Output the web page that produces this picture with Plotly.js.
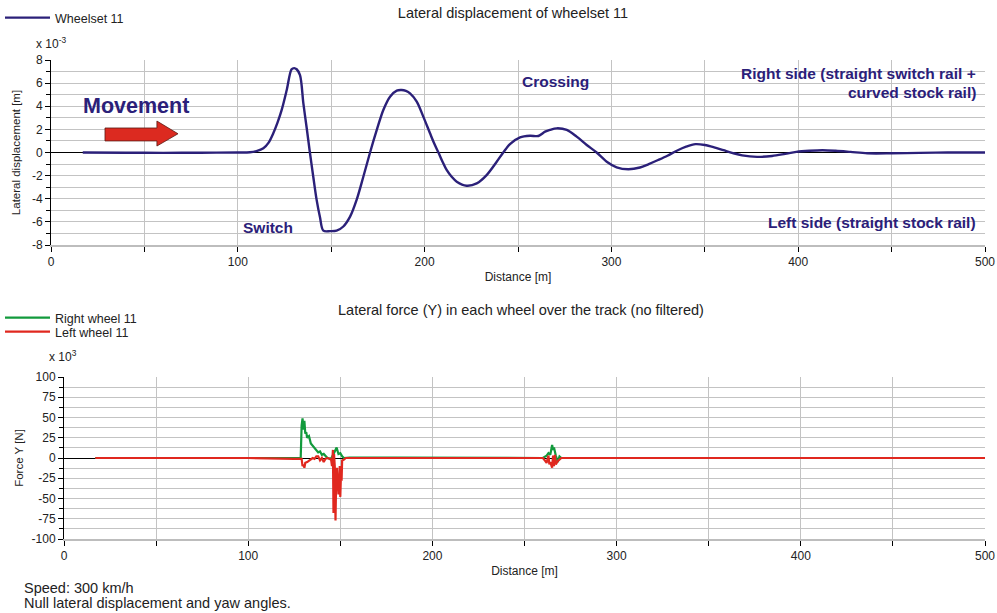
<!DOCTYPE html>
<html>
<head>
<meta charset="utf-8">
<script src="https://cdn.plot.ly/plotly-3.0.1.min.js"></script>
<style>html,body{margin:0;padding:0;background:#fff}#chart{width:997px;height:613px}</style>
</head>
<body>
<div id="chart"></div>
<script>
// ---- Data ----
// Lateral displacement of wheelset 11 [x 10^-3 m] vs distance [m]
const dispX = [17, 40, 60, 80, 100, 106.5, 110, 113.7, 116.5, 119, 121.3, 123.5, 126.2, 128.8, 130.2, 131.5, 133.3, 135.1, 136.9, 138.6, 140.4, 142.2, 144, 145.8, 149.4, 152.9, 156.5, 160.1, 163.6, 167.2, 170.8, 174.4, 177.9, 181.5, 185.1, 187.7, 190, 192.2, 195.8, 199.3, 202.9, 205.1, 207.4, 209.6, 211.8, 214.5, 217.2, 222.5, 227.9, 233.2, 238.6, 242.1, 245.7, 251.1, 256.4, 260.9, 264.5, 267.1, 270.7, 276.1, 281.4, 286.8, 292.1, 297.5, 302.8, 309, 315.3, 320, 325, 330, 335, 340, 345, 350, 355, 360, 365, 370, 378, 386, 393, 399, 406, 413, 420, 428, 437, 450, 465, 480, 500];
const dispY = [0, -0.02, -0.03, -0.02, 0, 0.02, 0.12, 0.36, 0.85, 1.66, 2.6, 3.68, 5.4, 7.2, 7.3, 7.2, 6.7, 4.25, 2.1, 0, -2.1, -4.1, -5.6, -6.76, -6.8, -6.76, -6.4, -5.55, -4.1, -2.1, 0, 1.95, 3.68, 4.83, 5.35, 5.4, 5.32, 5.12, 4.4, 3.1, 1.66, 0.8, 0, -0.8, -1.51, -2.1, -2.52, -2.87, -2.67, -1.95, -0.8, 0, 0.73, 1.31, 1.45, 1.43, 1.8, 1.95, 2.09, 1.95, 1.37, 0.65, 0, -0.8, -1.28, -1.45, -1.3, -1.0, -0.65, -0.28, 0.15, 0.5, 0.72, 0.65, 0.45, 0.2, -0.05, -0.25, -0.38, -0.3, -0.12, 0.05, 0.15, 0.2, 0.15, 0.05, -0.07, -0.07, -0.03, 0, 0];

// Lateral force Y per wheel [x 10^3 N] vs distance [m]
const rightX = [17, 100, 128.5, 129, 129.5, 130, 130.5, 131, 131.5, 132, 133, 134, 135, 136, 137, 138, 139, 140, 141, 142, 143, 145, 146, 147, 148, 149, 150, 151, 152, 155, 180, 200, 260, 262, 263, 264, 265, 265.5, 266, 267, 268, 269, 270, 500];
const rightY = [0, 0, 0, 40, 49, 35, 46, 30, 32, 25, 27, 18, 15, 12, 9, 7, 8, 4, 5, 2, 0, -1, 3, 8, 13, 5, 6, 2, 0, 0.6, 0.6, 0.3, 0, 3, 6, 4, 16, 10, 13, 3, -5, 2, 0, 0];
const leftX = [17, 100, 125, 129, 129.5, 130, 130.5, 131, 132, 133, 134, 135, 136, 137, 138, 139, 140, 141, 142, 143, 144, 145, 145.5, 146, 146.3, 146.6, 147, 147.4, 147.8, 148.2, 148.6, 149, 149.3, 149.7, 150, 150.3, 150.7, 151, 152, 153, 200, 260, 261, 262, 263, 263.5, 264, 265, 265.5, 266, 266.5, 267, 268, 269, 270, 500];
const leftY = [0, 0, -1, -1, -10, -8, -12, -6, -5, -3, -2, 0, -1, 2, 2, -3, 0, -5, -1, 0, -1, -2, -10, 10, -68, 5, -10, -77, -20, -12, -30, -45, -40, -10, -48, -25, -28, -3, -2, 0, 0, 0, -3, -6, 3, -8, -5, -12, 3, -10, 4, -8, -4, -2, 0, 0];

const seriesNames = ['Wheelset 11', 'Right wheel 11', 'Left wheel 11'];
const xTicks = [0, 100, 200, 300, 400, 500];
const dispTicks = [-8, -6, -4, -2, 0, 2, 4, 6, 8];
const forceTicks = [-100, -75, -50, -25, 0, 25, 50, 75, 100];
const fmt = v => String(v); // hyphen-minus like the reference

// ---- Style ----
const W = 997, H = 613;
const FONT = 'Liberation Sans, Arial, Helvetica, sans-serif';
const NAVY = '#2b2079';
const GRID = '#c3c3c3';
const px = v => v / W, py = v => 1 - v / H;

const traces = [
  {x: dispX, y: dispY, name: seriesNames[0], type: 'scatter', mode: 'lines',
   line: {color: NAVY, width: 2.4, shape: 'spline', smoothing: 0.9}, xaxis: 'x', yaxis: 'y', legend: 'legend'},
  {x: rightX, y: rightY, name: seriesNames[1], type: 'scatter', mode: 'lines',
   line: {color: '#129a3c', width: 2.2}, xaxis: 'x2', yaxis: 'y2', legend: 'legend2'},
  {x: leftX, y: leftY, name: seriesNames[2], type: 'scatter', mode: 'lines',
   line: {color: '#e0281f', width: 2.2}, xaxis: 'x2', yaxis: 'y2', legend: 'legend3'}
];

function xAxis(domain, anchor) {
  return {
    domain: domain, anchor: anchor, range: [0, 500],
    tickmode: 'array', tickvals: xTicks, ticktext: xTicks.map(fmt),
    ticks: 'outside', ticklen: 5, tickcolor: '#000', tickwidth: 1,
    showgrid: true, gridcolor: GRID, gridwidth: 1,
    minor: {dtick: 50, tick0: 0, showgrid: true, gridcolor: GRID, ticks: 'outside', ticklen: 5, tickcolor: '#000'},
    showline: true, linecolor: '#bdbdbd', linewidth: 2, mirror: false,
    zeroline: false,
    tickfont: {family: FONT, size: 12, color: '#222'},
    title: {text: 'Distance [m]', font: {family: FONT, size: 12, color: '#222'}, standoff: 4}
  };
}
function yAxis(domain, anchor, range, ticks, minorStep, title, standoff) {
  return {
    domain: domain, anchor: anchor, range: range,
    tickmode: 'array', tickvals: ticks, ticktext: ticks.map(fmt),
    ticks: 'outside', ticklen: 5, tickcolor: '#000', tickwidth: 1,
    showgrid: true, gridcolor: GRID, gridwidth: 1,
    minor: {dtick: minorStep, tick0: 0, showgrid: true, gridcolor: GRID, ticks: 'outside', ticklen: 4, tickcolor: '#000'},
    showline: true, linecolor: '#000', linewidth: 1,
    zeroline: true, zerolinecolor: '#000', zerolinewidth: 1,
    tickfont: {family: FONT, size: 12, color: '#222'},
    title: {text: title, font: {family: FONT, size: 11.5, color: '#222'}, standoff: standoff}
  };
}

const annFont = (s, c) => ({family: FONT, size: s, color: c || '#222'});
const legendBox = (top) => ({x: 0, y: py(top), xanchor: 'left', yanchor: 'top', bgcolor: 'rgba(0,0,0,0)',
  font: {family: FONT, size: 12.5, color: '#222'}, itemwidth: 45, tracegroupgap: 0});
const layout = {
  width: W, height: H,
  margin: {l: 0, r: 0, t: 0, b: 0},
  paper_bgcolor: '#fff', plot_bgcolor: '#fff',
  font: {family: FONT, size: 12, color: '#222'},
  title: {text: 'Lateral displacement of wheelset 11', font: {family: FONT, size: 14.5, color: '#222'},
          x: px(513), xanchor: 'center', y: py(13), yanchor: 'middle'},
  xaxis: xAxis([px(51), px(985)], 'y'),
  yaxis: yAxis([py(245), py(60)], 'x', [-8, 8], dispTicks, 1, 'Lateral displacement [m]', 8),
  xaxis2: xAxis([px(64), px(985)], 'y2'),
  yaxis2: yAxis([py(539), py(377)], 'x2', [-100, 100], forceTicks, 12.5, 'Force Y [N]', 5),
  legend: legendBox(3),
  legend2: legendBox(303),
  legend3: legendBox(317),
  showlegend: true,
  shapes: [
    {type: 'path', xref: 'x', yref: 'y',
     path: 'M 28.9 2.12 L 56.7 2.12 L 56.7 2.72 L 68 1.62 L 56.7 0.56 L 56.7 1.0 L 28.9 1.0 Z',
     fillcolor: '#dc2a20', line: {color: '#5a1a14', width: 0.8}}
  ],
  annotations: [
    {text: 'Lateral force (Y) in each wheel over the track (no filtered)', xref: 'paper', yref: 'paper',
     x: px(521), y: py(310), xanchor: 'center', yanchor: 'middle', showarrow: false, font: annFont(14.5)},
    {text: 'x 10<sup>-3</sup>', xref: 'paper', yref: 'paper', x: px(34), y: py(43), xanchor: 'left', yanchor: 'middle', showarrow: false, font: annFont(12)},
    {text: 'x 10<sup>3</sup>', xref: 'paper', yref: 'paper', x: px(47), y: py(356), xanchor: 'left', yanchor: 'middle', showarrow: false, font: annFont(12)},
    {text: '<b>Movement</b>', xref: 'paper', yref: 'paper', x: px(81), y: py(106), xanchor: 'left', yanchor: 'middle', showarrow: false, font: annFont(21.5, NAVY)},
    {text: '<b>Switch</b>', xref: 'paper', yref: 'paper', x: px(241), y: py(228), xanchor: 'left', yanchor: 'middle', showarrow: false, font: annFont(15.5, NAVY)},
    {text: '<b>Crossing</b>', xref: 'paper', yref: 'paper', x: px(520), y: py(82), xanchor: 'left', yanchor: 'middle', showarrow: false, font: annFont(15.5, NAVY)},
    {text: '<b>Right side (straight switch rail +</b>', xref: 'paper', yref: 'paper', x: px(978), y: py(73), xanchor: 'right', yanchor: 'middle', showarrow: false, font: annFont(15.5, NAVY)},
    {text: '<b>curved stock rail)</b>', xref: 'paper', yref: 'paper', x: px(978), y: py(92), xanchor: 'right', yanchor: 'middle', showarrow: false, font: annFont(15.5, NAVY)},
    {text: '<b>Left side (straight stock rail)</b>', xref: 'paper', yref: 'paper', x: px(978), y: py(222), xanchor: 'right', yanchor: 'middle', showarrow: false, font: annFont(15.5, NAVY)},
    {text: 'Speed: 300 km/h', xref: 'paper', yref: 'paper', x: px(22), y: py(588), xanchor: 'left', yanchor: 'middle', showarrow: false, font: annFont(14.5)},
    {text: 'Null lateral displacement and yaw angles.', xref: 'paper', yref: 'paper', x: px(22), y: py(603), xanchor: 'left', yanchor: 'middle', showarrow: false, font: annFont(14.5)}
  ]
};

Plotly.newPlot('chart', traces, layout, {displayModeBar: false, staticPlot: true});
</script>
</body>
</html>
